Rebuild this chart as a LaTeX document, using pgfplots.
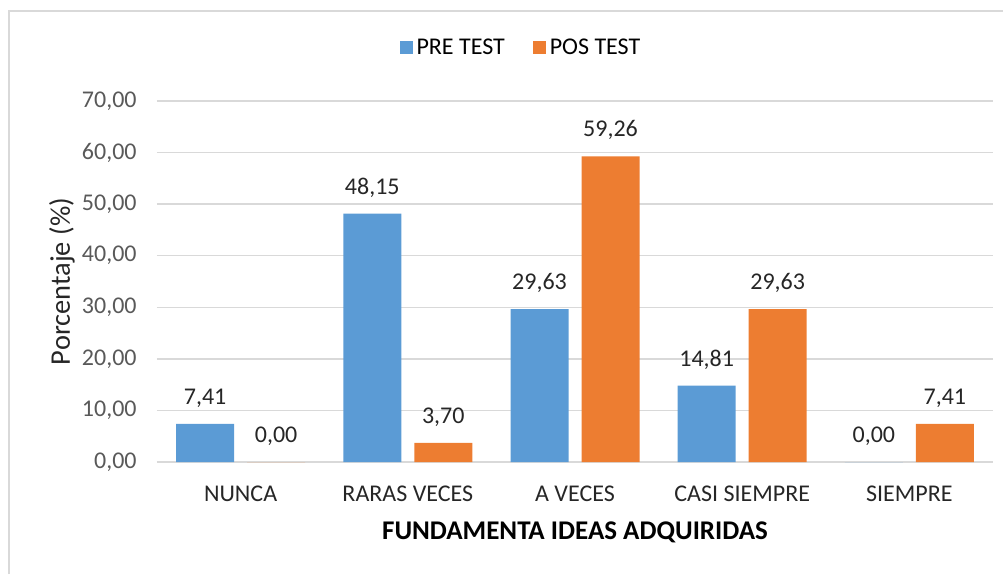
\documentclass[border=0pt]{standalone}
\usepackage{pgfplots}
\pgfplotsset{compat=1.18}
\usepackage{fontspec}
\setmainfont{Carlito}
\definecolor{preblue}{HTML}{5B9BD5}
\definecolor{posorange}{HTML}{ED7D31}
\definecolor{gridgray}{HTML}{D9D9D9}
\definecolor{ticktext}{HTML}{595959}
\begin{document}
\begin{tikzpicture}[x=0.5pt,y=0.5pt]
\useasboundingbox (0,0) rectangle (1003,574);
\draw[gridgray, line width=0.8pt] (9,0) -- (9,563) -- (1003,563);
\begin{axis}[
  at={(78.5pt,56pt)}, anchor=south west,
  scale only axis, width=418pt, height=180.5pt,
  ybar=6.5pt, bar width=29pt,
  xmin=-0.5, xmax=4.5, ymin=0, ymax=70,
  enlargelimits=false,
  xtick={0,1,2,3,4},
  xticklabels={NUNCA, RARAS VECES, A VECES, CASI SIEMPRE, SIEMPRE},
  ytick={0,10,20,30,40,50,60,70},
  axis x line*=bottom, axis y line*=left,
  x axis line style={gridgray, line width=0.8pt, -},
  y axis line style={draw=none},
  tick style={draw=none},
  ymajorgrids, grid style={gridgray, line width=0.7pt},
  font=\fontsize{12}{14}\selectfont,
  yticklabel style={font=\fontsize{12}{14}\selectfont, color=ticktext, inner sep=0pt, xshift=-10pt, /pgf/number format/.cd, fixed, fixed zerofill, precision=2, use comma, assume math mode=true},
  xticklabel style={font=\fontsize{12}{14}\selectfont, color=black!85, anchor=center, yshift=-11.5pt},
  ylabel={Porcentaje (\%)},
  ylabel style={at={(axis description cs:-0.1136,0.5)}, anchor=center, font=\fontsize{14.2}{16}\selectfont, color=black!85},
  xlabel={\textbf{FUNDAMENTA IDEAS ADQUIRIDAS}},
  xlabel style={at={(axis description cs:0.5,-0.196)}, anchor=center, font=\fontsize{13.5}{16}\selectfont, color=black},
  nodes near coords,
  nodes near coords style={font=\fontsize{12}{14}\selectfont, color=black!85, anchor=south, inner sep=0pt, yshift=8pt, /pgf/number format/.cd, fixed, fixed zerofill, precision=2, use comma, assume math mode=true},
  legend columns=2,
  legend style={at={(0.4365,1.147)}, anchor=center, draw=none, fill=none, font=\fontsize{12}{14}\selectfont, /tikz/every even column/.append style={column sep=12pt}},
  legend cell align=left,
]
\addplot[fill=preblue, draw=none, legend image code/.code={\fill[preblue] (-1.5pt,-3.25pt) rectangle (5pt,3.25pt);}] coordinates {(0,7.41) (1,48.15) (2,29.63) (3,14.81) (4,0.00)};
\addplot[fill=posorange, draw=none, legend image code/.code={\fill[posorange] (-1.5pt,-3.25pt) rectangle (5pt,3.25pt);}] coordinates {(0,0.00) (1,3.70) (2,59.26) (3,29.63) (4,7.41)};
\legend{PRE TEST, POS TEST}
\end{axis}
\end{tikzpicture}
\end{document}
